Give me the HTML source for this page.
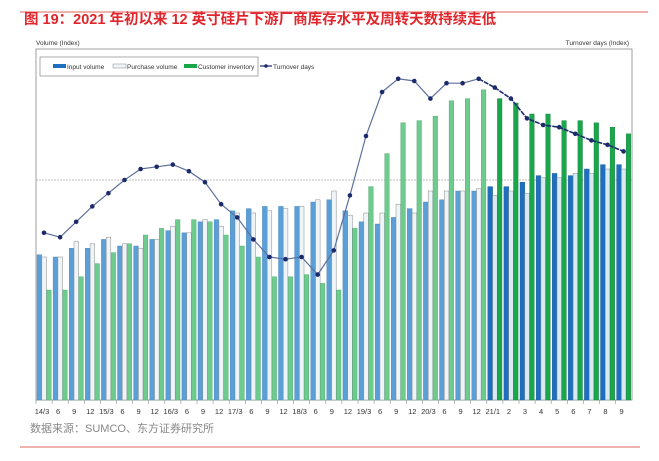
<!DOCTYPE html>
<html><head><meta charset="utf-8"><style>
body{margin:0;width:659px;height:456px;background:#fff;overflow:hidden;font-family:"Liberation Sans","Noto Sans CJK SC",sans-serif}
</style></head><body>
<svg id="c" width="659" height="456" xmlns="http://www.w3.org/2000/svg">
<line x1="20" y1="12" x2="648" y2="12" stroke="#e8837f" stroke-width="1.2"/>
<text x="24" y="24" font-size="14.5" font-weight="bold" fill="#e0262c" font-family="Liberation Sans, Noto Sans CJK SC, sans-serif">图 19：2021 年初以来 12 英寸硅片下游厂商库存水平及周转天数持续走低</text>
<text x="36" y="45" font-size="6.5" fill="#333">Volume (Index)</text>
<text x="629" y="45" font-size="6.5" fill="#333" text-anchor="end">Turnover days (Index)</text>
<rect x="36" y="49" width="596" height="351" fill="none" stroke="#888" stroke-width="0.8"/>
<line x1="36" y1="180" x2="632" y2="180" stroke="#aaa" stroke-width="0.7" stroke-dasharray="2,1"/>
<g>
<rect x="40" y="57" width="218" height="19" fill="#fff" stroke="#888" stroke-width="0.7"/>
<rect x="53" y="64" width="13" height="4" fill="#1f6fbf"/>
<text x="67" y="69" font-size="6.5" fill="#333">Input volume</text>
<rect x="113" y="64" width="13" height="4" fill="#eef4f8" stroke="#888" stroke-width="0.5"/>
<text x="127" y="69" font-size="6.5" fill="#333">Purchase volume</text>
<rect x="184" y="64" width="13" height="4" fill="#1aa64a"/>
<text x="198" y="69" font-size="6.5" fill="#333">Customer inventory</text>
<line x1="260" y1="66" x2="272" y2="66" stroke="#1b2a6b" stroke-width="1.2"/>
<circle cx="266" cy="66" r="1.8" fill="#1b2a6b"/>
<text x="273" y="69" font-size="6.5" fill="#333">Turnover days</text>
</g>
<g id="marks"></g>
<text x="30" y="432" font-size="11" fill="#888">数据来源：SUMCO、东方证券研究所</text>
<line x1="20" y1="447" x2="640" y2="447" stroke="#e8837f" stroke-width="1.2"/>
</svg>
<script>
const categories=["14/3","6","9","12","15/3","6","9","12","16/3","6","9","12","17/3","6","9","12","18/3","6","9","12","19/3","6","9","12","20/3","6","9","12","21/1","2","3","4","5","6","7","8","9"];
const inputVolume=[66,65,69,69,73,70,70,73,77,76,81,82,86,87,88,88,88,90,91,86,81,80,83,87,90,91,95,95,97,97,99,102,103,102,105,107,107];
const purchaseVolume=[65,65,72,71,74,71,69,73,79,76,82,79,85,85,86,87,88,91,95,84,85,85,89,85,95,95,95,96,93,95,94,101,101,103,103,105,105];
const customerInventory=[50,50,56,62,67,71,75,78,82,82,81,75,70,65,56,56,57,53,50,78,97,112,126,127,129,136,137,141,137,135,130,130,127,127,126,124,121];
const turnoverDays=[76,74,81,88,94,100,105,106,107,104,99,89,83,73,65,64,65,57,68,93,120,140,146,145,137,144,144,146,142,137,128,125,124,121,118,116,113];
const NS="http://www.w3.org/2000/svg";
const g=document.getElementById('marks');
function xs(i){return 44+16.1*i;}
function yv(v){return 400-v*2.2;}
function yt(v){return 400-v*2.2;}
function mk(t,a){const e=document.createElementNS(NS,t);for(const k in a)e.setAttribute(k,a[k]);g.appendChild(e);return e;}
categories.forEach((c,i)=>{
  const x=xs(i),late=i>=28;
  let r=mk('rect',{x:x-7,y:yv(inputVolume[i]),width:4.8,height:400-yv(inputVolume[i]),fill:late?'#1f6fbf':'#5b9fd8',stroke:late?'#1a5a9c':'#4a86b8','stroke-width':0.4});
  
  
  r=mk('rect',{x:x-2.2,y:yv(purchaseVolume[i]),width:4.6,height:400-yv(purchaseVolume[i]),fill:late?'#d9eaf3':'#eef4f8',stroke:'#8a8a8a','stroke-width':0.5});
  
  
  r=mk('rect',{x:x+2.6,y:yv(customerInventory[i]),width:4.6,height:400-yv(customerInventory[i]),fill:late?'#1aa64a':'#6ccb8d',stroke:late?'#13803a':'#4fa56e','stroke-width':0.4});
  
  
  const t=mk('line',{x1:x-8,y1:400,x2:x-8,y2:404,stroke:'#888','stroke-width':0.6});
  
  
  const l=mk('text',{x:x-2,y:414,'font-size':7.5,fill:'#333','text-anchor':'middle'});
  l.textContent=c;
  
  
});
let d1='',d2='';
turnoverDays.forEach((v,i)=>{const p=xs(i)+' '+yt(v);if(i<=27)d1+=(i?'L':'M')+p;if(i>=27)d2+=(i>27?'L':'M')+p;});
let p=mk('path',{d:d1,fill:'none',stroke:'#5d6f9c','stroke-width':1.2});


p=mk('path',{d:d2,fill:'none',stroke:'#1b2a6b','stroke-width':1.6,'stroke-dasharray':'5,1'});


turnoverDays.forEach((v,i)=>{
  const c=mk('circle',{cx:xs(i),cy:yt(v),r:2.3,fill:'#1b2a6b'});
  
  
});
</script>
</body></html>
